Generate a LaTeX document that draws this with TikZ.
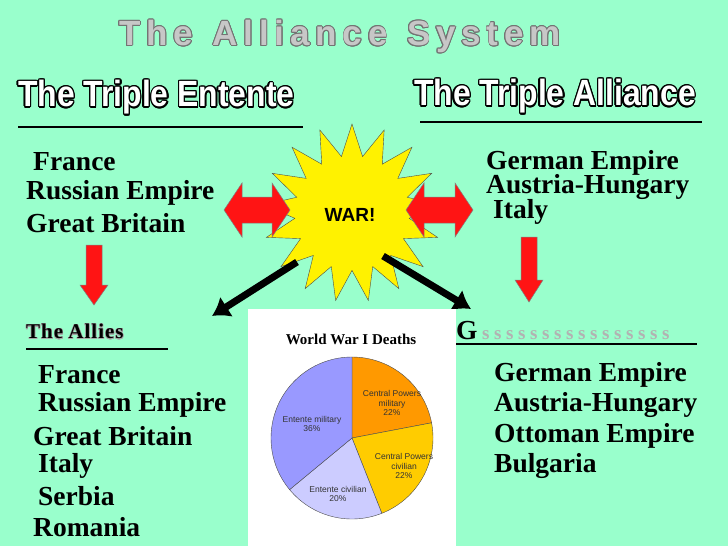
\documentclass[tikz,border=0pt]{standalone}
\usepackage{fontspec}
\setmainfont{Liberation Serif}
\newfontfamily\sansf{Liberation Sans}
\usepackage{contour}
\contourlength{1.1pt}
\usetikzlibrary{shapes.geometric,arrows.meta}
\definecolor{bgc}{RGB}{153,255,204}
\definecolor{redc}{RGB}{255,20,20}
\definecolor{pieor}{RGB}{255,153,0}
\definecolor{piego}{RGB}{255,204,0}
\definecolor{pielav}{RGB}{204,204,255}
\definecolor{pieblu}{RGB}{153,153,255}
\newcommand\sgap{\hspace{4.6pt}}
\tikzset{
 lst/.style={anchor=west,inner sep=0pt,font=\bfseries\fontsize{27.5}{28}\selectfont},
 head/.style={anchor=west,inner sep=0pt,font=\sansf\bfseries\fontsize{27}{28}\selectfont},
 rline/.style={line width=2.5pt},
 redar/.style={fill=redc,draw=black!50,line width=0.5pt},
 blk/.style={line width=7pt,-{Latex[length=17pt,width=24pt]}},
 pl/.style={font=\sansf\fontsize{8.5}{9.5}\selectfont,align=center,text=black!80},
 wedge/.style={draw=black!70,line width=0.4pt},
}
\begin{document}
\begin{tikzpicture}[x=1pt,y=-1pt]
\fill[bgc] (0,0) rectangle (728,546);
\useasboundingbox (0,0) rectangle (728,546);
% title
\node[inner sep=0pt,font=\sansf\bfseries\fontsize{35}{36}\selectfont] (title) at (340,37) {\contourlength{0.8pt}\contour{black!55}{\textcolor{black!22}{T\,h\,e\ \ A\,l\,l\,i\,a\,n\,c\,e\ \ S\,y\,s\,t\,e\,m}}};
\node[head] (te) at (18,98) {\scalebox{1.18}[1.35]{\contour{black}{\textcolor{white}{The Triple Entente}}}};
\node[head] (ta) at (414,97) {\scalebox{1.18}[1.35]{\contour{black}{\textcolor{white}{The Triple Alliance}}}};
\coordinate (u1a) at (18,127); \coordinate (u1b) at (303,127);
\coordinate (u2a) at (420,122); \coordinate (u2b) at (702,122);
\draw[rline] (u1a) -- (u1b);
\draw[rline] (u2a) -- (u2b);
% lists
\node[lst] (l1) at (33,162) {France};
\node[lst] (l2) at (26,193) {Russian Empire};
\node[lst] (l3) at (26,223) {Great Britain};
\node[lst] (r1) at (486,163) {German Empire};
\node[lst] (r2) at (486,187) {Austria-Hungary};
\node[lst] (r3) at (493,212) {Italy};
% star
\node[star,star points=17,star point ratio=1.55,fill=yellow,draw=black!70,minimum size=178pt] (war) at (352,213) {};
\node[font=\sansf\bfseries\fontsize{19}{20}\selectfont] (wart) at (350,215) {WAR!};
% red arrows
\draw[redar] (224,210) -- (242,183) -- (242,197) -- (272,197) -- (272,183) -- (290,210) -- (272,237) -- (272,223) -- (242,223) -- (242,237) -- cycle;
\draw[redar] (406,210) -- (424,183) -- (424,197) -- (455,197) -- (455,183) -- (473,210) -- (455,237) -- (455,223) -- (424,223) -- (424,237) -- cycle;
\draw[redar] (86,245) -- (102,245) -- (102,285) -- (108,285) -- (94,305) -- (80,285) -- (86,285) -- cycle;
\draw[redar] (521,237) -- (537,237) -- (537,280) -- (543,280) -- (529,302) -- (515,280) -- (521,280) -- cycle;
% black arrows
\coordinate (b1s) at (297,262); \coordinate (b1e) at (212,316);
\coordinate (b2s) at (383,256); \coordinate (b2e) at (471,309);
\draw[blk] (b1s) -- (b1e);
\draw[blk] (b2s) -- (b2e);
% allies
\node[lst,font=\bfseries\fontsize{21}{22}\selectfont] (allies) at (26,332) {\contourlength{0.5pt}\contour{black!35}{T\kern1pt h\kern1pt e\ A\kern1pt l\kern1pt l\kern1pt i\kern1pt e\kern1pt s}};
\coordinate (u3a) at (26,349); \coordinate (u3b) at (168,349);
\draw[line width=1.8pt] (u3a) -- (u3b);
\node[lst] (a1) at (38,375) {France};
\node[lst] (a2) at (38,405) {Russian Empire};
\node[lst] (a3) at (33,436) {Great Britain};
\node[lst] (a4) at (38,466) {Italy};
\node[lst] (a5) at (38,496) {Serbia};
\node[lst] (a6) at (33,527) {Romania};
% central
\node[lst] (g) at (456,331) {G\textcolor{black!30}{\fontsize{19}{20}\selectfont\sgap s\sgap s\sgap s\sgap s\sgap s\sgap s\sgap s\sgap s\sgap s\sgap s\sgap s\sgap s\sgap s\sgap s\sgap s\sgap s}};
\coordinate (u4a) at (456,344); \coordinate (u4b) at (697,344);
\draw[line width=1.5pt] (u4a) -- (u4b);
\node[lst] (c1) at (494,375) {German Empire};
\node[lst] (c2) at (494,405) {Austria-Hungary};
\node[lst] (c3) at (494,436) {Ottoman Empire};
\node[lst] (c4) at (494,466) {Bulgaria};
% chart
\fill[white] (248,309) rectangle (456,546);
\node[font=\bfseries\fontsize{15}{16}\selectfont] (ct) at (351,339) {World War I Deaths};
\coordinate (pc) at (352,438);
\def\R{81}
\filldraw[wedge,fill=pieor] (pc) -- ++(-90:\R) arc[start angle=-90,end angle=-10.8,radius=\R] -- cycle;
\filldraw[wedge,fill=piego] (pc) -- ++(-10.8:\R) arc[start angle=-10.8,end angle=68.4,radius=\R] -- cycle;
\filldraw[wedge,fill=pielav] (pc) -- ++(68.4:\R) arc[start angle=68.4,end angle=140.4,radius=\R] -- cycle;
\filldraw[wedge,fill=pieblu] (pc) -- ++(140.4:\R) arc[start angle=140.4,end angle=270,radius=\R] -- cycle;
\node[pl] (p1) at (392,403) {Central Powers\\military\\22\%};
\node[pl] (p2) at (404,466) {Central Powers\\civilian\\22\%};
\node[pl] (p3) at (338,494) {Entente civilian\\20\%};
\node[pl] (p4) at (312,424) {Entente military\\36\%};
\end{tikzpicture}
\end{document}
